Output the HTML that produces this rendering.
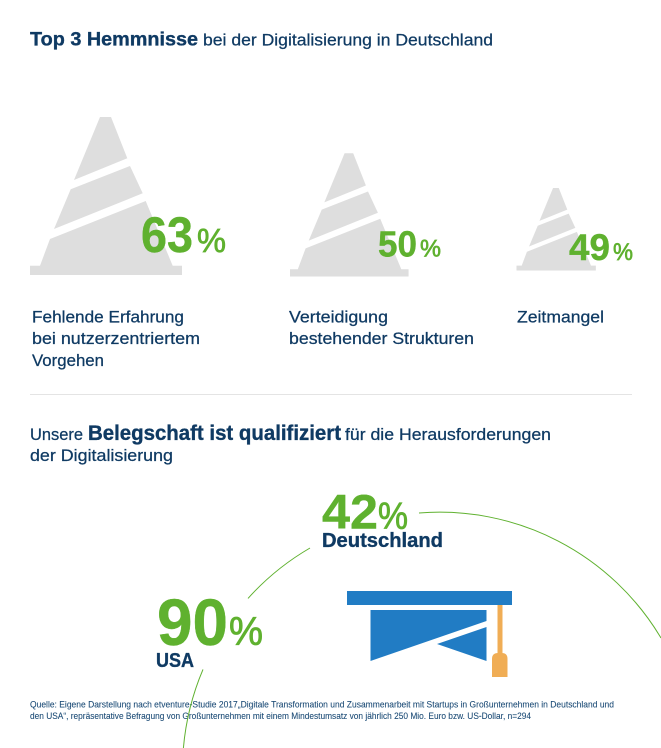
<!DOCTYPE html>
<html lang="de">
<head>
<meta charset="utf-8">
<title>Top 3 Hemmnisse bei der Digitalisierung</title>
<style>
html,body{margin:0;padding:0;background:#fff;}
svg{display:block;font-family:"Liberation Sans",sans-serif;}
.navy{fill:#0f3a63;stroke:#0f3a63;stroke-width:.25;}
.b{font-weight:700;stroke-width:.35;}
.small{stroke-width:.08;fill:#1a4a75;stroke:#1a4a75;}
</style>
</head>
<body>
<svg id="chart" width="661" height="748" viewBox="0 0 661 748" xmlns="http://www.w3.org/2000/svg">
  <g>
    <text class="navy b" x="30" y="45.5" font-size="19.5" textLength="168" lengthAdjust="spacingAndGlyphs">Top 3 Hemmnisse</text>
    <text class="navy" x="203" y="45.5" font-size="16.5" textLength="290" lengthAdjust="spacingAndGlyphs">bei der Digitalisierung in Deutschland</text>
  </g>
  <g id="cones"></g>
  <g>
    <text class="navy" x="32" y="322.5" font-size="16.5" textLength="152" lengthAdjust="spacingAndGlyphs">Fehlende Erfahrung</text>
    <text class="navy" x="32" y="344" font-size="16.5" textLength="168" lengthAdjust="spacingAndGlyphs">bei nutzerzentriertem</text>
    <text class="navy" x="32" y="366" font-size="16.5" textLength="72" lengthAdjust="spacingAndGlyphs">Vorgehen</text>
    <text class="navy" x="289" y="322.5" font-size="16.5" textLength="99" lengthAdjust="spacingAndGlyphs">Verteidigung</text>
    <text class="navy" x="289" y="344" font-size="16.5" textLength="185" lengthAdjust="spacingAndGlyphs">bestehender Strukturen</text>
    <text class="navy" x="517" y="322.5" font-size="16.5" textLength="87" lengthAdjust="spacingAndGlyphs">Zeitmangel</text>
  </g>
  <rect x="30" y="394" width="602" height="1" fill="#e4e4e4"/>
  <g>
    <text class="navy" x="30" y="440" font-size="16.5" textLength="53" lengthAdjust="spacingAndGlyphs">Unsere</text>
    <text class="navy b" x="88" y="440" font-size="21" textLength="253" lengthAdjust="spacingAndGlyphs">Belegschaft ist qualifiziert</text>
    <text class="navy" x="345" y="440" font-size="16.5" textLength="206" lengthAdjust="spacingAndGlyphs">für die Herausforderungen</text>
    <text class="navy" x="30" y="461" font-size="16.5" textLength="143" lengthAdjust="spacingAndGlyphs">der Digitalisierung</text>
  </g>
  <g id="countries"></g>
  <g>
    <rect x="347" y="591" width="165" height="14" fill="#217cc4"/>
    <polygon points="370.5,610 486.5,610 486.5,621 370.5,661" fill="#217cc4"/>
    <polygon points="486.5,627 437,644 486.5,661" fill="#217cc4"/>
    <rect x="497.5" y="605" width="5" height="50" fill="#f0ad55"/>
    <path d="M492 677 V659 Q492 653 498 653 H502 Q507.5 653 507.5 659 V677 Z" fill="#f0ad55"/>
  </g>
  <g>
    <text class="navy small" x="30" y="707.5" font-size="9.6" textLength="584" lengthAdjust="spacingAndGlyphs">Quelle: Eigene Darstellung nach etventure-Studie 2017„Digitale Transformation und Zusammenarbeit mit Startups in Großunternehmen in Deutschland und</text>
    <text class="navy small" x="30" y="719" font-size="9.6" textLength="501" lengthAdjust="spacingAndGlyphs">den USA“, repräsentative Befragung von Großunternehmen mit einem Mindestumsatz von jährlich 250 Mio. Euro bzw. US-Dollar, n=294</text>
  </g>
  <g fill="none" stroke="#5fb12f" stroke-width="1">
    <path d="M419 513 A 257.5 257.5 0 0 1 661 638"/>
    <path d="M310 548 A 257.5 257.5 0 0 0 248 598.4"/>
    <path d="M203 669.4 A 257.5 257.5 0 0 0 183.4 748"/>
  </g>
</svg>
<script>
// Chart data
const hurdleNames = ['erfahrung', 'strukturen', 'zeitmangel'];
const hurdleValues = [63, 50, 49];
const countryNames = ['Deutschland', 'USA'];
const countryValues = [42, 90];

const NS = 'http://www.w3.org/2000/svg';
const GREEN = '#5fb12f';

// Axis function: value -> cone scale (the reference sizes cones by rank-like steps)
function coneScale(v) {
  const d = [49, 50, 63], r = [0.522, 0.78, 1];
  if (v <= d[0]) return r[0] * v / d[0];
  if (v <= d[1]) return r[0] + (v - d[0]) / (d[1] - d[0]) * (r[1] - r[0]);
  return r[1] + (v - d[1]) / (d[2] - d[1]) * (r[2] - r[1]);
}

// Layout of each cone slot
const coneAnchors = [
  {left: 30, base: 275, numX: 141, numW: 52, numY: 252, numS: 50, pctX: 197, pctW: 29, pctS: 33},
  {left: 290, base: 276.5, numX: 378, numW: 39, numY: 256.5, numS: 36, pctX: 420, pctW: 21, pctS: 24},
  {left: 516.5, base: 270.5, numX: 569, numW: 41, numY: 260, numS: 37, pctX: 613, pctW: 20, pctS: 24}
];
const conePieces = [
  '100,117 111,117 127.3,158.3 74,180',
  '70.7,189.3 130,166 142.7,193.3 54,229',
  '50,239 145.7,201 172.7,265.7 182,265.7 182,275 30,275 30,265.7 40,265.7'
];

function addText(parent, str, x, y, size, w, weight, fill, strokeW) {
  const t = document.createElementNS(NS, 'text');
  t.setAttribute('x', x);
  t.setAttribute('y', y);
  t.setAttribute('font-size', size);
  t.setAttribute('font-weight', weight);
  t.setAttribute('fill', fill);
  t.setAttribute('stroke', fill);
  t.setAttribute('stroke-width', strokeW);
  t.setAttribute('textLength', w);
  t.setAttribute('lengthAdjust', 'spacingAndGlyphs');
  t.textContent = str;
  parent.appendChild(t);
  return t;
}

const conesG = document.getElementById('cones');
hurdleValues.forEach(function (v, i) {
  const a = coneAnchors[i];
  const s = coneScale(v);
  const g = document.createElementNS(NS, 'g');
  
  
  g.setAttribute('transform', 'translate(' + a.left + ' ' + a.base + ') scale(' + s + ') translate(-30 -275)');
  conePieces.forEach(function (pts) {
    const p = document.createElementNS(NS, 'polygon');
    
    
    p.setAttribute('points', pts);
    p.setAttribute('fill', '#dedede');
    g.appendChild(p);
  });
  conesG.appendChild(g);
});
hurdleValues.forEach(function (v, i) {
  const a = coneAnchors[i];
  const num = addText(conesG, String(v), a.numX, a.numY, a.numS, a.numW, 700, GREEN, 0.4);
  
  
  const pct = addText(conesG, '%', a.pctX, a.numY, a.pctS, a.pctW, 400, GREEN, 0.7);
  
  
});

const countryLayout = [
  {numX: 322, numW: 56, numY: 528.5, numS: 48, pctX: 378, pctW: 30, pctS: 38, nameX: 322, nameW: 121, nameY: 547, nameS: 20},
  {numX: 157, numW: 71, numY: 645, numS: 66, pctX: 229, pctW: 34, pctS: 40, nameX: 156, nameW: 38, nameY: 667, nameS: 20}
];
const countriesG = document.getElementById('countries');
countryValues.forEach(function (v, i) {
  const c = countryLayout[i];
  const key = countryNames[i].toLowerCase();
  const num = addText(countriesG, String(v), c.numX, c.numY, c.numS, c.numW, 700, GREEN, 0.4);
  
  
  const pct = addText(countriesG, '%', c.pctX, c.numY, c.pctS, c.pctW, 400, GREEN, 0.8);
  
  
  const name = addText(countriesG, countryNames[i], c.nameX, c.nameY, c.nameS, c.nameW, 700, '#0f3a63', 0.35);
  
  
});
</script>
</body>
</html>
